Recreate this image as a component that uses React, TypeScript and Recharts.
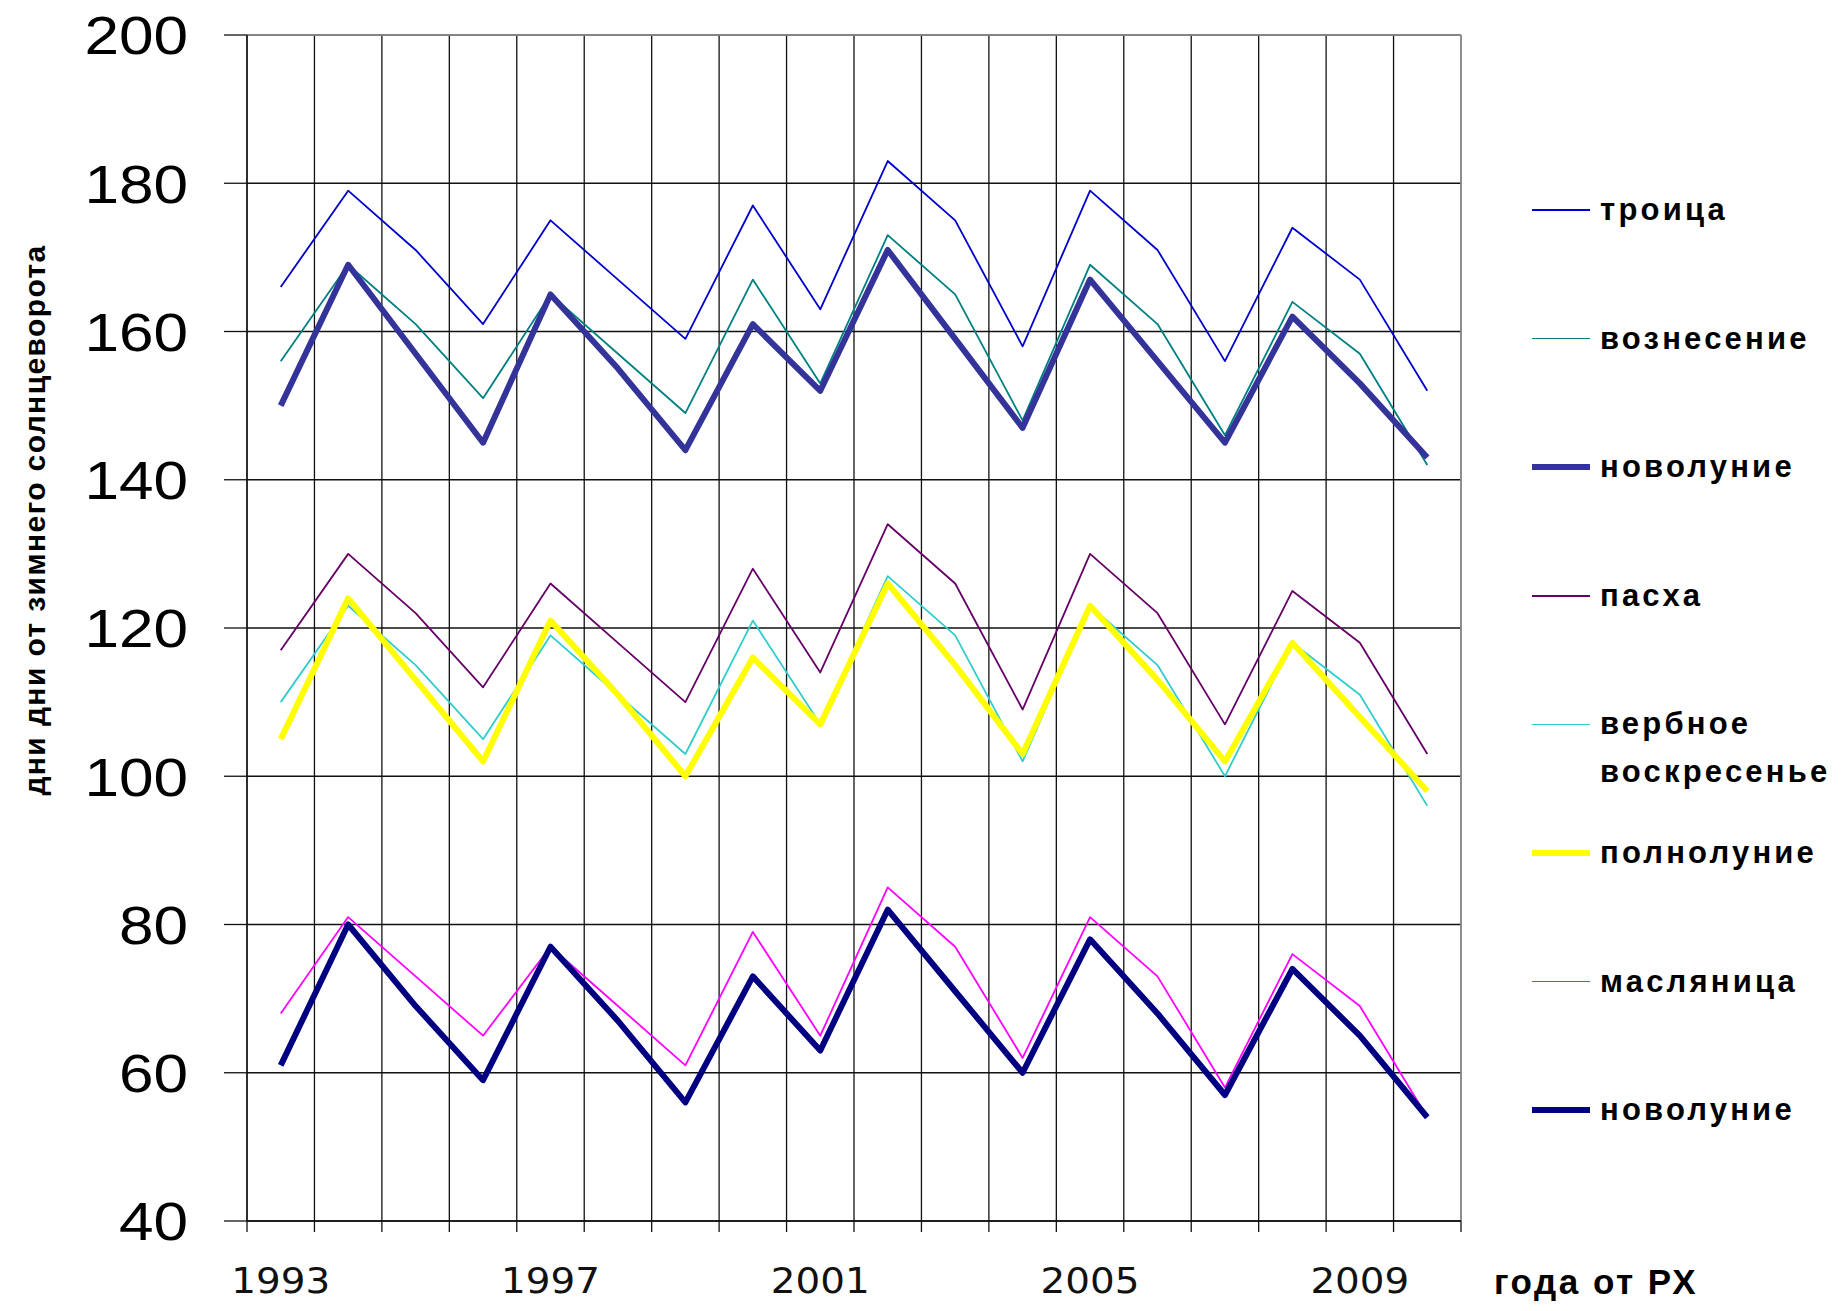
import { CartesianGrid, Line, LineChart, ReferenceLine, XAxis, YAxis } from "recharts"

const years = [1993, 1994, 1995, 1996, 1997, 1998, 1999, 2000, 2001, 2002, 2003, 2004, 2005, 2006, 2007, 2008, 2009, 2010]

// дни от зимнего солнцеворота
const troitsa = [166, 179, 171, 161, 175, 167, 159, 177, 163, 183, 175, 158, 179, 171, 156, 174, 167, 152]
const voznesenie = [156, 169, 161, 151, 165, 157, 149, 167, 153, 173, 165, 148, 169, 161, 146, 164, 157, 142]
const novolunie1 = [150, 169, 157, 145, 165, 155, 144, 161, 152, 171, 159, 147, 167, 156, 145, 162, 153, 143]
const pascha = [117, 130, 122, 112, 126, 118, 110, 128, 114, 134, 126, 109, 130, 122, 107, 125, 118, 103]
const verbnoe = [110, 123, 115, 105, 119, 111, 103, 121, 107, 127, 119, 102, 123, 115, 100, 118, 111, 96]
const polnolunie = [105, 124, 113, 102, 121, 111, 100, 116, 107, 126, 115, 103, 123, 113, 102, 118, 108, 98]
const maslenitsa = [68, 81, 73, 65, 77, 69, 61, 79, 65, 85, 77, 62, 81, 73, 58, 76, 69, 54]
const novolunie2 = [61, 80, 69, 59, 77, 67, 56, 73, 63, 82, 71, 60, 78, 68, 57, 74, 65, 54]

const labelYears = [1993, 1997, 2001, 2005, 2009]
const yTicks = [40, 60, 80, 100, 120, 140, 160, 180, 200]

const series = [
  { key: "troitsa", name: "троица", color: "#0000CC", width: 1.8, values: troitsa },
  { key: "voznesenie", name: "вознесение", color: "#008080", width: 1.8, values: voznesenie },
  { key: "novolunie1", name: "новолуние", color: "#333399", width: 6, values: novolunie1 },
  { key: "pascha", name: "пасха", color: "#660066", width: 1.8, values: pascha },
  { key: "verbnoe", name: "вербное воскресенье", color: "#33CCCC", width: 1.8, values: verbnoe },
  { key: "polnolunie", name: "полнолуние", color: "#FFFF00", width: 6, values: polnolunie },
  { key: "maslenitsa", name: "масляница", color: "#FF00FF", width: 1.8, values: maslenitsa },
  { key: "novolunie2", name: "новолуние", color: "#000080", width: 6, values: novolunie2 },
]

const W = 1845
const H = 1311
const PLOT_LEFT = 247
const PLOT_RIGHT = 1461
const PLOT_TOP = 35
const PLOT_BOTTOM = 1221
const STEP = (PLOT_RIGHT - PLOT_LEFT) / years.length

// gridlines sit between the years
const boundaries = years.map((y) => y - 0.5).concat(years[years.length - 1] + 0.5)

const data = years.map((year, i) => {
  const row: { [key: string]: number } = { year }
  series.forEach((s) => {
    row[s.key] = s.values[i]
  })
  return row
})

function XTick({ x, y, payload }: any) {
  const year = payload.value + 0.5
  if (!labelYears.includes(year)) return <g />
  return (
    <text
      transform={`translate(${x + STEP / 2},${y + 61}) scale(1.08,1)`}
      textAnchor="middle"
      fontFamily="DejaVu Sans"
      fontSize={36}
      fill="#111"
    >
      {year}
    </text>
  )
}

function YTick({ x, y, payload }: any) {
  return (
    <text
      transform={`translate(${x},${y}) scale(1.15,1)`}
      textAnchor="end"
      dy="0.36em"
      fontFamily="Liberation Sans"
      fontSize={54}
      fill="#000"
    >
      {payload.value}
    </text>
  )
}

export default function App() {
  return (
    <div style={{ position: "absolute", left: 0, top: 0, width: W, height: H, background: "#fff" }}>
      <LineChart
        width={W}
        height={H}
        data={data}
        margin={{ top: PLOT_TOP, right: W - PLOT_RIGHT, left: 0, bottom: 0 }}
      >
        <CartesianGrid stroke="#111" strokeWidth={1.3} />
        <XAxis
          dataKey="year"
          type="number"
          domain={[boundaries[0], boundaries[boundaries.length - 1]]}
          ticks={boundaries}
          interval={0}
          height={H - PLOT_BOTTOM}
          tickSize={11}
          tickMargin={0}
          tick={<XTick />}
          axisLine={{ stroke: "#111", strokeWidth: 1.3 }}
          tickLine={{ stroke: "#111", strokeWidth: 1.3 }}
        />
        <YAxis
          type="number"
          domain={[40, 200]}
          ticks={yTicks}
          interval={0}
          width={PLOT_LEFT}
          tickSize={23}
          tickMargin={36}
          tick={<YTick />}
          axisLine={{ stroke: "#111", strokeWidth: 1.3 }}
          tickLine={{ stroke: "#111", strokeWidth: 1.3 }}
        />
        <ReferenceLine y={200} stroke="#999" strokeWidth={1.6} />
        <ReferenceLine x={boundaries[boundaries.length - 1]} stroke="#999" strokeWidth={1.6} />
        {series.map((s) => (
          <Line
            key={s.key}
            type="linear"
            dataKey={s.key}
            name={s.name}
            stroke={s.color}
            strokeWidth={s.width}
            strokeLinejoin="round"
            dot={false}
            activeDot={false}
            isAnimationActive={false}
          />
        ))}
      </LineChart>

      <div
        style={{
          position: "absolute",
          left: 35,
          top: 520,
          transform: "translate(-50%, -50%) rotate(-90deg)",
          whiteSpace: "nowrap",
          fontFamily: "Liberation Sans",
          fontWeight: "bold",
          fontSize: 30,
          letterSpacing: 1.4,
          color: "#000",
        }}
      >
        дни дни от зимнего солнцеворота
      </div>

      <div
        style={{
          position: "absolute",
          left: 1494,
          top: 1282,
          transform: "translateY(-50%)",
          whiteSpace: "nowrap",
          fontFamily: "Liberation Sans",
          fontWeight: "bold",
          fontSize: 35,
          letterSpacing: 2.5,
          color: "#000",
        }}
      >
        года от РХ
      </div>

      {series.map((s, i) => {
        const cy = 210 + i * 128.6
        return (
          <div key={s.key}>
            <div
              style={{
                position: "absolute",
                left: 1532,
                top: cy - s.width / 2,
                width: 58,
                height: s.width,
                background: s.color,
              }}
            />
            <div
              style={{
                position: "absolute",
                left: 1600,
                top: cy - 24,
                width: 240,
                lineHeight: "48px",
                fontFamily: "Liberation Sans",
                fontWeight: "bold",
                fontSize: 31,
                letterSpacing: 3.2,
                color: "#000",
              }}
            >
              {s.name}
            </div>
          </div>
        )
      })}
    </div>
  )
}
